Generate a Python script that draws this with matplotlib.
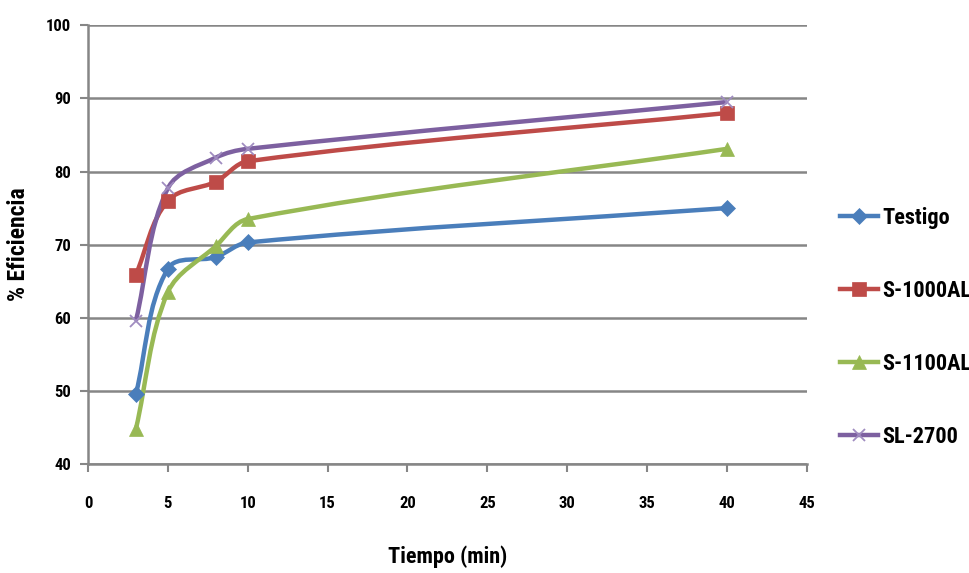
import numpy as np
import matplotlib; matplotlib.use('Agg')
import matplotlib.pyplot as plt
from matplotlib import font_manager
from matplotlib.path import Path
from matplotlib.patches import PathPatch
from matplotlib.lines import Line2D

tiempo = [3, 5, 8, 10, 40]
testigo = [49.6, 66.7, 68.3, 70.3, 75.0]
s1000al = [65.9, 76.0, 78.6, 81.4, 88.0]
s1100al = [44.8, 63.5, 69.8, 73.5, 83.1]
sl2700 = [59.6, 77.7, 81.9, 83.1, 89.5]
nombres = ['Testigo', 'S-1000AL', 'S-1100AL', 'SL-2700']

# fuente estrecha si hay alguna instalada
disponibles = {f.name for f in font_manager.fontManager.ttflist}
estrechas = [f for f in ['Liberation Sans Narrow', 'DejaVu Sans Condensed', 'Roboto Condensed',
                         'Open Sans Condensed', 'Noto Sans Condensed'] if f in disponibles]
FONT = estrechas[:1] + ['Roboto', 'DejaVu Sans']
grey = '#868686'

# escala aproximada px por unidad, para suavizar en espacio de pantalla
SX, SY = 719 / 45, 439 / 60

def smooth_path(x, y):
    # bezier cubica; tangente catmull-rom normalizada, brazo = 1/3 del segmento
    p = np.column_stack([np.asarray(x) * SX, np.asarray(y) * SY]).astype(float)
    n = len(p)
    tang = []
    for i in range(n):
        a = p[max(i - 1, 0)]; b = p[min(i + 1, n - 1)]
        d = b - a
        tang.append(d / np.hypot(*d))
    verts = [p[0]]; codes = [Path.MOVETO]
    for i in range(n - 1):
        L = np.hypot(*(p[i + 1] - p[i])) / 3
        c1 = p[i] + tang[i] * L
        c2 = p[i + 1] - tang[i + 1] * L
        verts += [c1, c2, p[i + 1]]; codes += [Path.CURVE4] * 3
    v = np.array(verts) / [SX, SY]
    return Path(v, codes)

fig = plt.figure(figsize=(9.7, 5.73), dpi=100)
ax = fig.add_axes([0.0907, 0.19, 0.741, 0.766])

series = [
    (testigo, '#4a7ebb', 'D', 8, None),
    (s1000al, '#be4b48', 's', 10, None),
    (s1100al, '#98b954', '^', 10, None),
    (sl2700, '#7d60a0', 'x', 9, '#a08cc0'),
]
LW = 3.2
handles = []
for (vals, c, m, ms, mc), name in zip(series, nombres):
    ax.add_patch(PathPatch(smooth_path(tiempo, vals), fill=False, ec=c, lw=LW, zorder=3))
    mcol = mc or c
    ax.plot(tiempo, vals, ls='none', marker=m, ms=ms, mfc=mcol, mec=mcol,
            mew=1.3 if m == 'x' else 0.5, zorder=4)
    handles.append(Line2D([], [], color=c, lw=LW, marker=m, ms=ms, mfc=mcol, mec=mcol,
                          mew=1.3 if m == 'x' else 0.5))

ax.set_xlim(0, 45); ax.set_ylim(40, 100)
ax.set_xticks(range(0, 46, 5)); ax.set_yticks(range(40, 101, 10))
ax.grid(axis='y', color=grey, lw=1.8, zorder=0)
for s in ['top', 'right']:
    ax.spines[s].set_visible(False)
for s in ['left', 'bottom']:
    ax.spines[s].set_color(grey); ax.spines[s].set_linewidth(1.8)
ax.tick_params(color=grey, width=1.5, length=6, direction='out', pad=17)
ax.tick_params(axis='y', pad=6)
for lab in ax.get_xticklabels() + ax.get_yticklabels():
    lab.set_family(FONT); lab.set_fontweight('bold'); lab.set_fontsize(12)

ax.set_xlabel('Tiempo (min)', family=FONT, fontweight='bold', fontsize=16, labelpad=25)
ax.set_ylabel('% Eficiencia', family=FONT, fontweight='bold', fontsize=17, labelpad=12)

leg = fig.legend(handles, nombres, loc='center left', bbox_to_anchor=(0.866, 0.429),
                 frameon=False, handlelength=1.7, handletextpad=0.2, labelspacing=2.3,
                 borderaxespad=0, borderpad=0,
                 prop=dict(family=FONT, weight='bold', size=16))

fig.savefig('out.png', dpi=100)
